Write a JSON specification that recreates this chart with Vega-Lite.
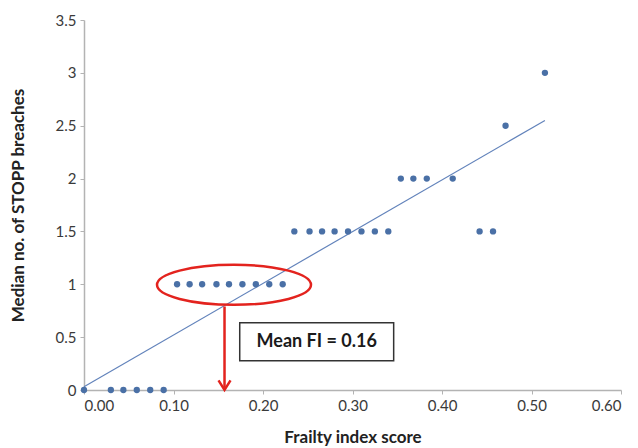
{
  "$schema": "https://vega.github.io/schema/vega-lite/v6.json",
  "width": 537,
  "height": 370,
  "autosize": "none",
  "padding": {"left": 84, "top": 20, "right": 17, "bottom": 58},
  "background": "white",
  "config": {
    "view": {"stroke": null},
    "font": "Lato",
    "axis": {
      "grid": false,
      "domainColor": "#b3b3b3",
      "domainWidth": 1.5,
      "tickColor": "#b3b3b3",
      "tickSize": 4,
      "labelFont": "Lato",
      "labelFontSize": 15,
      "labelColor": "#3a3a3a",
      "titleFont": "Lato",
      "titleFontSize": 17,
      "titleFontWeight": "bold",
      "titleColor": "#222222"
    }
  },
  "datasets": {
    "points": [
      {"fi": 0.0, "stopp": 0},
      {"fi": 0.030, "stopp": 0},
      {"fi": 0.044, "stopp": 0},
      {"fi": 0.059, "stopp": 0},
      {"fi": 0.074, "stopp": 0},
      {"fi": 0.089, "stopp": 0},
      {"fi": 0.104, "stopp": 1},
      {"fi": 0.118, "stopp": 1},
      {"fi": 0.132, "stopp": 1},
      {"fi": 0.148, "stopp": 1},
      {"fi": 0.162, "stopp": 1},
      {"fi": 0.177, "stopp": 1},
      {"fi": 0.192, "stopp": 1},
      {"fi": 0.207, "stopp": 1},
      {"fi": 0.222, "stopp": 1},
      {"fi": 0.235, "stopp": 1.5},
      {"fi": 0.252, "stopp": 1.5},
      {"fi": 0.266, "stopp": 1.5},
      {"fi": 0.280, "stopp": 1.5},
      {"fi": 0.295, "stopp": 1.5},
      {"fi": 0.310, "stopp": 1.5},
      {"fi": 0.325, "stopp": 1.5},
      {"fi": 0.340, "stopp": 1.5},
      {"fi": 0.354, "stopp": 2},
      {"fi": 0.368, "stopp": 2},
      {"fi": 0.383, "stopp": 2},
      {"fi": 0.412, "stopp": 2},
      {"fi": 0.442, "stopp": 1.5},
      {"fi": 0.457, "stopp": 1.5},
      {"fi": 0.471, "stopp": 2.5},
      {"fi": 0.515, "stopp": 3}
    ],
    "trend": [
      {"fi": 0.0, "stopp": 0.03},
      {"fi": 0.515, "stopp": 2.55}
    ],
    "ellipse": [{"fi": 0.1676, "stopp": 0.995}],
    "arrow": [{"fi": 0.157, "top": 0.79, "bottom": 0.02}],
    "arrowhead": [{"fi": 0.157, "stopp": 0.0}],
    "box": [{"x1": 0.174, "x2": 0.346, "y1": 0.277, "y2": 0.637, "xc": 0.26, "yc": 0.457, "label": "Mean FI = 0.16"}]
  },
  "layer": [
    {
      "data": {"name": "trend"},
      "mark": {"type": "line", "color": "#6283bb", "strokeWidth": 1.2},
      "encoding": {
        "x": {
          "field": "fi", "type": "quantitative",
          "scale": {"domain": [0, 0.6], "nice": false},
          "axis": {"values": [0, 0.1, 0.2, 0.3, 0.4, 0.5, 0.6], "format": ".2f", "title": "Frailty index score", "titlePadding": 16, "labelPadding": 4}
        },
        "y": {
          "field": "stopp", "type": "quantitative",
          "scale": {"domain": [0, 3.5], "nice": false},
          "axis": {"values": [0, 0.5, 1, 1.5, 2, 2.5, 3, 3.5], "format": "~g", "title": "Median no. of STOPP breaches", "titlePadding": 28, "labelPadding": 4}
        }
      }
    },
    {
      "data": {"name": "points"},
      "mark": {"type": "point", "shape": "circle", "filled": true, "opacity": 1, "color": "#4a70a6", "size": 40},
      "encoding": {
        "x": {"field": "fi", "type": "quantitative"},
        "y": {"field": "stopp", "type": "quantitative"}
      }
    },
    {
      "data": {"name": "ellipse"},
      "mark": {"type": "point", "shape": "M-1,0A1,0.26,0,1,1,1,0A1,0.26,0,1,1,-1,0Z", "filled": false, "opacity": 1, "stroke": "#e3231e", "strokeWidth": 2.5, "size": 23716},
      "encoding": {
        "x": {"field": "fi", "type": "quantitative"},
        "y": {"field": "stopp", "type": "quantitative"}
      }
    },
    {
      "data": {"name": "arrow"},
      "mark": {"type": "rule", "color": "#e3231e", "strokeWidth": 2.5},
      "encoding": {
        "x": {"field": "fi", "type": "quantitative"},
        "y": {"field": "top", "type": "quantitative"},
        "y2": {"field": "bottom"}
      }
    },
    {
      "data": {"name": "arrowhead"},
      "mark": {"type": "point", "shape": "M-1,-1.6L0,0L1,-1.6", "filled": false, "opacity": 1, "stroke": "#e3231e", "strokeWidth": 2.5, "size": 144},
      "encoding": {
        "x": {"field": "fi", "type": "quantitative"},
        "y": {"field": "stopp", "type": "quantitative"}
      }
    },
    {
      "data": {"name": "box"},
      "mark": {"type": "rect", "fill": "white", "stroke": "#333333", "strokeWidth": 1.5},
      "encoding": {
        "x": {"field": "x1", "type": "quantitative"},
        "x2": {"field": "x2"},
        "y": {"field": "y1", "type": "quantitative"},
        "y2": {"field": "y2"}
      }
    },
    {
      "data": {"name": "box"},
      "mark": {"type": "text", "font": "Lato", "fontSize": 18, "fontWeight": "bold", "color": "#1a1a1a", "align": "center", "baseline": "middle"},
      "encoding": {
        "x": {"field": "xc", "type": "quantitative"},
        "y": {"field": "yc", "type": "quantitative"},
        "text": {"field": "label"}
      }
    }
  ]
}
